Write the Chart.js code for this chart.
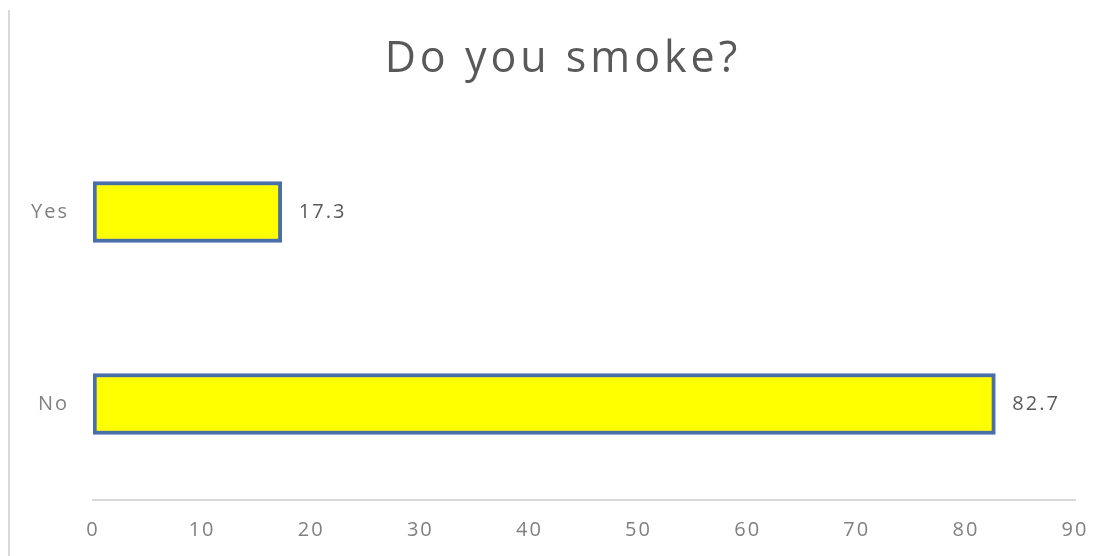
<!DOCTYPE html>
<html>
<head>
<meta charset="utf-8">
<script src="https://cdn.jsdelivr.net/npm/chart.js@4/dist/chart.umd.min.js"></script>
<style>
  html, body { margin: 0; padding: 0; background: #ffffff; }
  #wrap { width: 1103px; height: 556px; position: relative; }
</style>
</head>
<body>
<div id="wrap"><canvas id="c"></canvas></div>
<script>
// Survey answers and their percentages
const categories = ['Yes', 'No'];
const percentages = [17.3, 82.7];
const tickValues = [0, 10, 20, 30, 40, 50, 60, 70, 80, 90];
const chartTitle = 'Do you smoke?';

const FONT = "'Open Sans', 'Liberation Sans', sans-serif";

// Slightly spaced lettering for the axis labels
const textSpacing = {
  id: 'textSpacing',
  beforeUpdate(chart) { chart.ctx.letterSpacing = '2px'; },
  beforeDraw(chart) { chart.ctx.letterSpacing = '2px'; }
};

// Heading centred above the plot
const heading = {
  id: 'heading',
  afterDraw(chart) {
    const ctx = chart.ctx;
    const spacing = 4;
    ctx.save();
    ctx.letterSpacing = spacing + 'px';
    ctx.font = '43px ' + FONT;
    ctx.fillStyle = '#595959';
    ctx.textAlign = 'center';
    ctx.textBaseline = 'alphabetic';
    ctx.fillText(chartTitle, 561 + spacing / 2, 72);
    ctx.restore();
  }
};

// Writes each bar's value just past its end
const valueLabels = {
  id: 'valueLabels',
  afterDatasetsDraw(chart) {
    const ctx = chart.ctx;
    const meta = chart.getDatasetMeta(0);
    ctx.save();
    ctx.letterSpacing = '2px';
    ctx.font = '20px ' + FONT;
    ctx.fillStyle = '#595959';
    ctx.textAlign = 'left';
    ctx.textBaseline = 'middle';
    meta.data.forEach((bar, i) => {
      ctx.fillText(String(percentages[i]), bar.x + 17, bar.y);
    });
    ctx.restore();
  }
};

// Thin frame line along the left edge of the chart box
const frameLine = {
  id: 'frameLine',
  beforeDraw(chart) {
    const ctx = chart.ctx;
    ctx.save();
    ctx.strokeStyle = '#d9d9d9';
    ctx.lineWidth = 2;
    ctx.beginPath();
    ctx.moveTo(9, 10);
    ctx.lineTo(9, chart.height);
    ctx.stroke();
    ctx.restore();
  }
};

new Chart(document.getElementById('c'), {
  type: 'bar',
  data: {
    labels: categories,
    datasets: [{
      data: percentages,
      backgroundColor: '#ffff00',
      borderColor: '#4a6fa8',
      borderWidth: 4,
      borderSkipped: false,
      barThickness: 61
    }]
  },
  options: {
    indexAxis: 'y',
    responsive: true,
    maintainAspectRatio: false,
    animation: false,
    layout: { padding: { left: 0, right: 28, top: 116, bottom: 0 } },
    plugins: {
      legend: { display: false },
      tooltip: { enabled: false },
      title: { display: false }
    },
    scales: {
      x: {
        min: 0,
        max: 90,
        afterBuildTicks(scale) {
          scale.ticks = tickValues.map(v => ({ value: v }));
        },
        afterFit(scale) {
          scale.height = 56;
          scale.paddingLeft = 0;
          scale.paddingRight = 0;
        },
        grid: { display: false, drawTicks: false },
        border: { display: true, color: '#d9d9d9', width: 2 },
        ticks: {
          color: '#808080',
          padding: 18,
          font: { family: FONT, size: 20 }
        }
      },
      y: {
        afterFit(scale) { scale.width = 93; },
        grid: { display: false, drawTicks: false },
        border: { display: false },
        ticks: {
          color: '#808080',
          padding: 24,
          font: { family: FONT, size: 20 }
        }
      }
    }
  },
  plugins: [textSpacing, heading, valueLabels, frameLine]
});
</script>
</body>
</html>
